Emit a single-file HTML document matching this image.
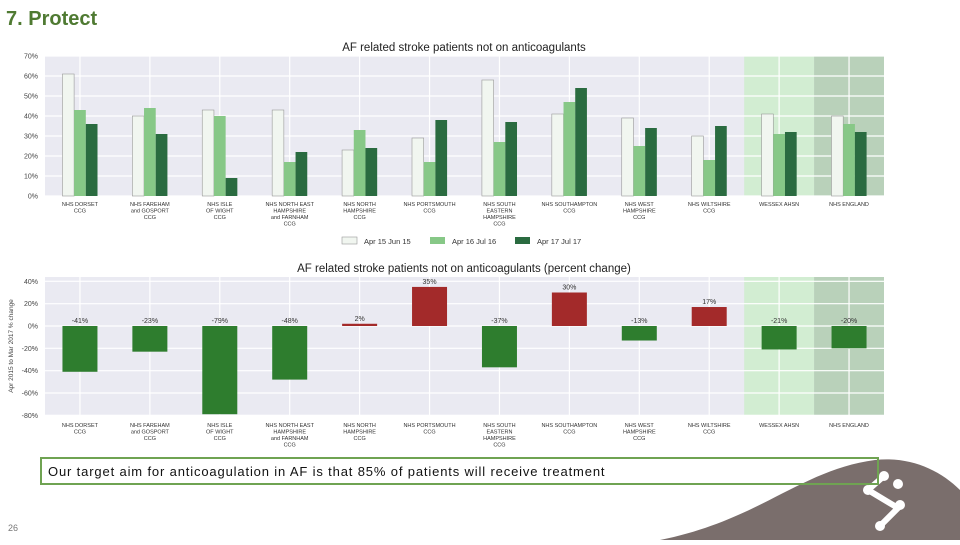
<!DOCTYPE html>
<html><head><meta charset="utf-8"><style>
body{margin:0;width:960px;height:540px;overflow:hidden;background:#fff;font-family:"Liberation Sans",sans-serif}
</style></head><body>
<svg id="s" width="960" height="540" viewBox="0 0 960 540" xmlns="http://www.w3.org/2000/svg">
<path d="M660,540 C760,520 800,470 875,460 C910,456 940,470 960,490 L960,540 Z" fill="#7a6e6c"/>
<g fill="#fff">
<circle cx="884" cy="476" r="5"/><circle cx="898" cy="484" r="5"/><circle cx="868" cy="490" r="5"/><circle cx="900" cy="505" r="5"/><circle cx="880" cy="526" r="5"/>
<path d="M884,476 L868,490 L898,508 L880,526" stroke="#fff" stroke-width="6" fill="none"/>
</g>
<text x="6" y="25" font-size="20" font-weight="bold" fill="#4f7a32">7. Protect</text>
<g id="gtop"></g>
<g id="gbot"></g>
<rect x="41" y="458" width="837" height="26" fill="none" stroke="#6fa352" stroke-width="2"/>
<text x="48" y="476" font-size="13" letter-spacing="0.85" fill="#111">Our target aim for anticoagulation in AF is that 85% of patients will receive treatment</text>
<text x="8" y="531" font-size="9" fill="#777">26</text>
</svg>
<script>
const categories=[["NHS DORSET","CCG"],["NHS FAREHAM","and GOSPORT","CCG"],["NHS ISLE","OF WIGHT","CCG"],["NHS NORTH EAST","HAMPSHIRE","and FARNHAM","CCG"],["NHS NORTH","HAMPSHIRE","CCG"],["NHS PORTSMOUTH","CCG"],["NHS SOUTH","EASTERN","HAMPSHIRE","CCG"],["NHS SOUTHAMPTON","CCG"],["NHS WEST","HAMPSHIRE","CCG"],["NHS WILTSHIRE","CCG"],["WESSEX AHSN"],["NHS ENGLAND"]];
const series2015=[61,40,43,43,23,29,58,41,39,30,41,40];
const series2016=[43,44,40,17,33,17,27,47,25,18,31,36];
const series2017=[36,31,9,22,24,38,37,54,34,35,32,32];
const pctChange=[-41,-23,-79,-48,2,35,-37,30,-13,17,-21,-20];
const topTicks=[0,10,20,30,40,50,60,70];
const botTicks=[-80,-60,-40,-20,0,20,40];
const legendLabels=["Apr 15 Jun 15","Apr 16 Jul 16","Apr 17 Jul 17"];
const NS="http://www.w3.org/2000/svg";
function mk(p,t,a,txt){const e=document.createElementNS(NS,t);for(const k in a)e.setAttribute(k,a[k]);if(txt!==undefined)e.textContent=txt;p.appendChild(e);return e;}
const X0=45,X1=884,slot=(X1-X0)/categories.length;
const cx=i=>X0+slot*(i+0.5);
const yT=v=>196-v*2;
const yB=v=>326-v*(134/120);
const gTop=document.getElementById('gtop'),gBot=document.getElementById('gbot');
function bg(g,y0,y1){
  let r=mk(g,'rect',{x:X0,y:y0,width:X1-X0,height:y1-y0,fill:'#eaeaf2'});
  
  r=mk(g,'rect',{x:X0+slot*10,y:y0,width:slot,height:y1-y0,fill:'#d2edd2'});
  
  r=mk(g,'rect',{x:X0+slot*11,y:y0,width:slot,height:y1-y0,fill:'#b9d1ba'});
  
  for(let i=0;i<categories.length;i++){const l=mk(g,'line',{x1:cx(i),x2:cx(i),y1:y0,y2:y1,stroke:'#fff','stroke-width':1.2});
  }
}
function catLabels(g,y){
  categories.forEach((c,i)=>{c.forEach((s,j)=>{const t=mk(g,'text',{x:cx(i),y:y+j*6.5,'font-size':5.5,'text-anchor':'middle',fill:'#333'},s);
  });});
}
bg(gTop,56,196);
topTicks.forEach(v=>{const l=mk(gTop,'line',{x1:X0,x2:X1,y1:yT(v),y2:yT(v),stroke:'#fff','stroke-width':1.2});

const t=mk(gTop,'text',{x:38,y:yT(v)+2.5,'font-size':7,'text-anchor':'end',fill:'#444'},v+'%');
});
const bw=11.7,cols=['#f1f6f0','#87c887','#2a6b40'];
[series2015,series2016,series2017].forEach((s,k)=>{s.forEach((v,i)=>{
 const r=mk(gTop,'rect',{x:cx(i)-bw*1.5+k*bw,y:yT(v),width:bw,height:yT(0)-yT(v),fill:cols[k],stroke:k==0?'#999':'none','stroke-width':0.6});
 });});
let tt=mk(gTop,'text',{x:464,y:51,'font-size':11.5,'text-anchor':'middle',fill:'#222'},'AF related stroke patients not on anticoagulants');

catLabels(gTop,206);
const lx=[342,430,515];
legendLabels.forEach((s,k)=>{const r=mk(gTop,'rect',{x:lx[k],y:237,width:15,height:7,fill:cols[k],stroke:k==0?'#999':'none','stroke-width':0.6});

const t=mk(gTop,'text',{x:lx[k]+22,y:244,'font-size':7.5,fill:'#333'},s);
});
bg(gBot,277,415);
botTicks.forEach(v=>{const l=mk(gBot,'line',{x1:X0,x2:X1,y1:yB(v),y2:yB(v),stroke:'#fff','stroke-width':1.2});

const t=mk(gBot,'text',{x:38,y:yB(v)+2.5,'font-size':7,'text-anchor':'end',fill:'#444'},v+'%');
});
pctChange.forEach((v,i)=>{const y=Math.min(yB(v),yB(0)),h=Math.abs(yB(v)-yB(0));
 const r=mk(gBot,'rect',{x:cx(i)-17.5,y:y,width:35,height:h,fill:v<0?'#2e7d2e':'#a32a2a'});
 
 const ly=v<0?yB(0)-3:yB(v)-3;
 const t=mk(gBot,'text',{x:cx(i),y:ly,'font-size':7,'text-anchor':'middle',fill:'#333'},v+'%');
 });
tt=mk(gBot,'text',{x:464,y:272,'font-size':11.5,'text-anchor':'middle',fill:'#222'},'AF related stroke patients not on anticoagulants (percent change)');

tt=mk(gBot,'text',{x:13,y:346,'font-size':6.5,'text-anchor':'middle',fill:'#444',transform:'rotate(-90 13 346)'},'Apr 2015 to Mar 2017 % change');

catLabels(gBot,427);
</script>
</body></html>
